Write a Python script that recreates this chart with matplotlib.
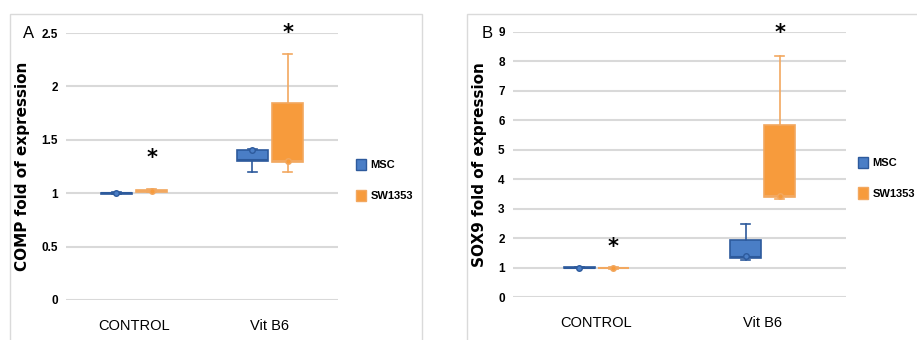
import matplotlib
matplotlib.use("Agg")
import matplotlib.pyplot as plt
from matplotlib.patches import Rectangle, Patch

plt.rcParams['font.family'] = ['Liberation Sans', 'DejaVu Sans']

categories = ["CONTROL", "Vit B6"]
series = ["MSC", "SW1353"]

# Panel A: COMP  (whislo, q1, med, q3, whishi, mean) per category
comp_msc = [(0.99, 0.995, 1.0, 1.005, 1.01, 1.0), (1.20, 1.30, 1.31, 1.40, 1.41, 1.40)]
comp_sw = [(1.01, 1.015, 1.02, 1.03, 1.035, 1.02), (1.20, 1.29, 1.30, 1.84, 2.30, 1.30)]
comp_star = [1.33, 2.50]

# Panel B: SOX9
sox_msc = [(0.98, 0.99, 1.0, 1.01, 1.02, 1.0), (1.27, 1.34, 1.37, 1.93, 2.48, 1.40)]
sox_sw = [(0.96, 0.97, 0.98, 1.0, 1.01, 0.98), (3.32, 3.40, 3.42, 5.83, 8.19, 3.42)]
sox_star = [1.69, 8.96]

blue_fill, blue_edge = "#4A7EC6", "#2D5A9C"
orange_fill, orange_edge = "#F79B3C", "#F2A860"

fig = plt.figure(figsize=(9.17, 3.4), dpi=100)

# panel frames
for x0, w in [(10, 412), (467, 460)]:
    fig.patches.append(Rectangle((x0 / 917, -0.05), w / 917, (340 - 14) / 340 + 0.05,
                                 transform=fig.transFigure, fill=False,
                                 edgecolor="#DADADA", lw=1.0))

def stats(t):
    return dict(whislo=t[0], q1=t[1], med=t[2], q3=t[3], whishi=t[4], mean=t[5], fliers=[])

def draw(ax, msc, sw, stars, ylim, yticks, ylabel, off, width, ticklabels, legx):
    xs = [1, 3]
    for data, sign, fc, ec in [(msc, -1, blue_fill, blue_edge), (sw, 1, orange_fill, orange_edge)]:
        pos = [x + sign * off for x in xs]
        ax.bxp([stats(t) for t in data], positions=pos, widths=width, patch_artist=True,
               showmeans=True, showfliers=False, capwidths=width * 0.3,
               boxprops=dict(facecolor=fc, edgecolor=ec, lw=1.2),
               medianprops=dict(color=ec, lw=1.5),
               whiskerprops=dict(color=ec, lw=1.2),
               capprops=dict(color=ec, lw=1.2),
               meanprops=dict(marker='o', markersize=4, markerfacecolor=fc,
                              markeredgecolor=ec, markeredgewidth=1.0),
               zorder=3)
    for x, y in zip(xs, stars):
        ax.text(x + off, y, "*", ha='center', va='center', fontsize=15, fontweight='bold',
                family=['DejaVu Sans'], zorder=4)
    ax.set_xlim(0, 4)
    ax.set_ylim(ylim)
    ax.set_yticks(yticks)
    ax.set_yticklabels(ticklabels, fontsize=8.5, fontweight='bold')
    ax.set_xticks(xs)
    ax.set_xticklabels(categories, fontsize=10.5)
    ax.tick_params(length=0, pad=6)
    ax.tick_params(axis='x', pad=14)
    ax.grid(axis='y', color="#D9D9D9", lw=1.5, zorder=0)
    ax.set_axisbelow(True)
    for s in ax.spines.values():
        s.set_visible(False)
    ax.set_ylabel(ylabel, fontsize=11, fontweight='bold', family=['DejaVu Sans'], labelpad=8)
    handles = [Patch(facecolor=blue_fill, edgecolor=blue_edge), Patch(facecolor=orange_fill, edgecolor=orange_edge)]
    ax.legend(handles, series, loc='center left', bbox_to_anchor=(1 + legx, 0.45), frameon=False,
              handlelength=0.9, handleheight=1.2, labelspacing=1.75, handletextpad=0.4,
              borderaxespad=0, borderpad=0, prop=dict(weight='bold', size=8))

axA = fig.add_axes([66 / 917, 40 / 340, 272 / 917, 267 / 340])
draw(axA, comp_msc, comp_sw, comp_star, (0, 2.5), [0, 0.5, 1, 1.5, 2, 2.5],
     "COMP fold of expression", 0.26, 0.46, ["0", "0.5", "1", "1.5", "2", "2.5"], 0.066)
fig.text(23 / 917, 1 - 33 / 340, "A", fontsize=12, va='center', ha='left')

axB = fig.add_axes([513 / 917, 43 / 340, 333 / 917, 265 / 340])
draw(axB, sox_msc, sox_sw, sox_star, (0, 9), list(range(10)),
     "SOX9 fold of expression", 0.205, 0.37, [str(i) for i in range(10)], 0.036)
fig.text(482 / 917, 1 - 33 / 340, "B", fontsize=12, va='center', ha='left')

fig.savefig("out.png", dpi=100)
